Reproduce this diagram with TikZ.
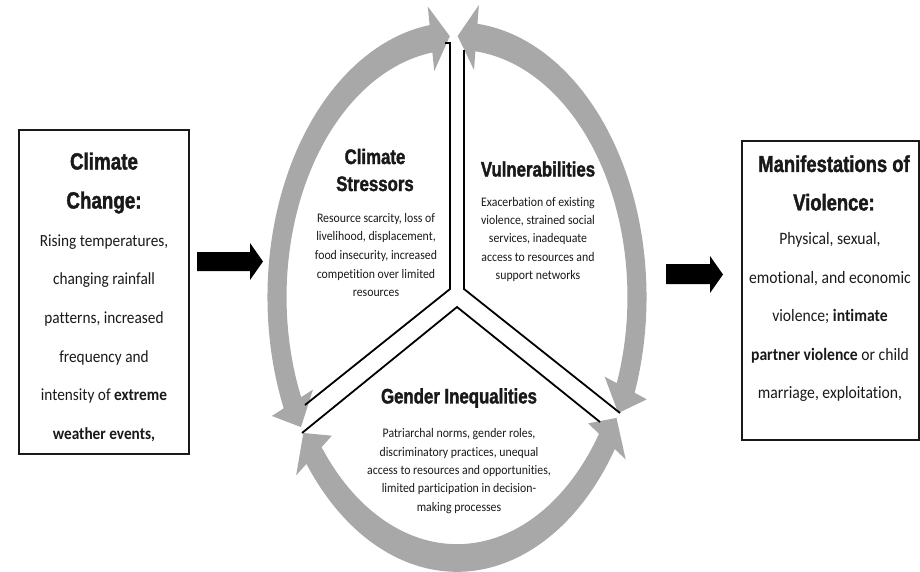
\documentclass[tikz,border=0pt]{standalone}
\usepackage{fontspec}
\newfontfamily\ttlfont{Liberation Sans}[FakeStretch=0.8, BoldFeatures={FakeBold=1.6}]
\newfontfamily\bodyfont{Carlito}[FakeStretch=0.9, Ligatures=NoCommon]
\definecolor{ringgray}{RGB}{168,168,168}
\definecolor{inkc}{RGB}{25,25,25}

% a double-headed ring segment on the unit circle, from angle #1 to #2 (#1 < #2)
\newcommand\cyclearrow[2]{%
  \pgfmathsetmacro\aA{#1+6}%
  \pgfmathsetmacro\aB{#2-6}%
  \fill[ringgray]
    (#1:1pt) -- (\aA:1.125pt) -- (\aA:1.053pt)
    arc[start angle=\aA, end angle=\aB, radius=1.053pt]
    -- (\aB:1.125pt) -- (#2:1pt) -- (\aB:0.875pt) -- (\aB:0.947pt)
    arc[start angle=\aB, end angle=\aA, radius=0.947pt]
    -- (\aA:0.875pt) -- cycle;}

\begin{document}
\begin{tikzpicture}[x=1pt,y=-1pt,
  box/.style={draw=inkc, line width=1.3pt, inner sep=0pt},
  ttl/.style={align=center, inner sep=0pt, text=inkc},
  bodytxt/.style={align=center, inner sep=0pt, text=inkc},
  divider/.style={draw=black, line width=1.8pt, line join=miter}]
\useasboundingbox (0,0) rectangle (920,571);

% outer boxes
\node[box, minimum width=170, minimum height=324] (cc) at (104,292) {};
\node[box, minimum width=177, minimum height=299] (mv) at (830.5,290.5) {};

\node[ttl, font=\ttlfont\bfseries\fontsize{23.5}{39}\selectfont] (cctitle) at (104,183) {Climate\\Change:};
\node[bodytxt, font=\bodyfont\fontsize{17}{38.6}\selectfont] (ccbody) at (104,338)
  {Rising temperatures,\\changing rainfall\\patterns, increased\\frequency and\\intensity of \textbf{extreme}\\\textbf{weather events,}};

\node[ttl, font=\ttlfont\bfseries\fontsize{23}{38.5}\selectfont] (mvtitle) at (834,183) {Manifestations of\\Violence:};
\node[bodytxt, font=\bodyfont\fontsize{17.4}{38.5}\selectfont] (mvbody) at (830,317)
  {Physical,\ sexual,\\emotional,\ and economic\\violence;\ \textbf{intimate}\\\textbf{partner violence} or child\\marriage, exploitation,};

% block arrows in and out of the cycle
\fill[black] (197,252) -- (250,252) -- (250,243) -- (263,261.5) -- (250,280) -- (250,271) -- (197,271) -- cycle;
\fill[black] (666,264) -- (710,264) -- (710,256) -- (723,274.5) -- (710,293) -- (710,284) -- (666,284) -- cycle;

% the cycle ring
\begin{scope}[shift={(457,297)}, x=1pt, y=1pt, xscale=180, yscale=261]
  \cyclearrow{92.3}{209.9}
  \cyclearrow{-26.4}{89.8}
  \cyclearrow{211.4}{332.4}
\end{scope}

% Y-shaped dividers
\draw[divider] (445,43) -- (450,43) -- (450,289) -- (305,405);
\draw[divider] (464,50) -- (464,289) -- (620,413);
\draw[divider] (302,433) -- (457,307) -- (600,422);

% segment labels
\node[ttl, font=\ttlfont\bfseries\fontsize{21}{27}\selectfont] (cs) at (375,170) {Climate\\Stressors};
\node[bodytxt, font=\bodyfont\fontsize{13.1}{18.7}\selectfont] (csbody) at (376,255)
  {Resource scarcity, loss of\\livelihood, displacement,\\food insecurity, increased\\competition over limited\\resources};

\node[ttl, font=\ttlfont\bfseries\fontsize{21}{27}\selectfont] (vu) at (538,169) {Vulnerabilities};
\node[bodytxt, font=\bodyfont\fontsize{13.1}{18.2}\selectfont] (vubody) at (538,239.5)
  {Exacerbation of existing\\violence, strained social\\services, inadequate\\access to resources and\\support networks};

\node[ttl, font=\ttlfont\bfseries\fontsize{21}{27}\selectfont] (gi) at (459,398) {Gender Inequalities};
\node[bodytxt, font=\bodyfont\fontsize{13.1}{18.3}\selectfont] (gibody) at (459,471)
  {Patriarchal norms, gender roles,\\discriminatory practices, unequal\\access to resources and opportunities,\\limited participation in decision-\\making processes};
\end{tikzpicture}
\end{document}
